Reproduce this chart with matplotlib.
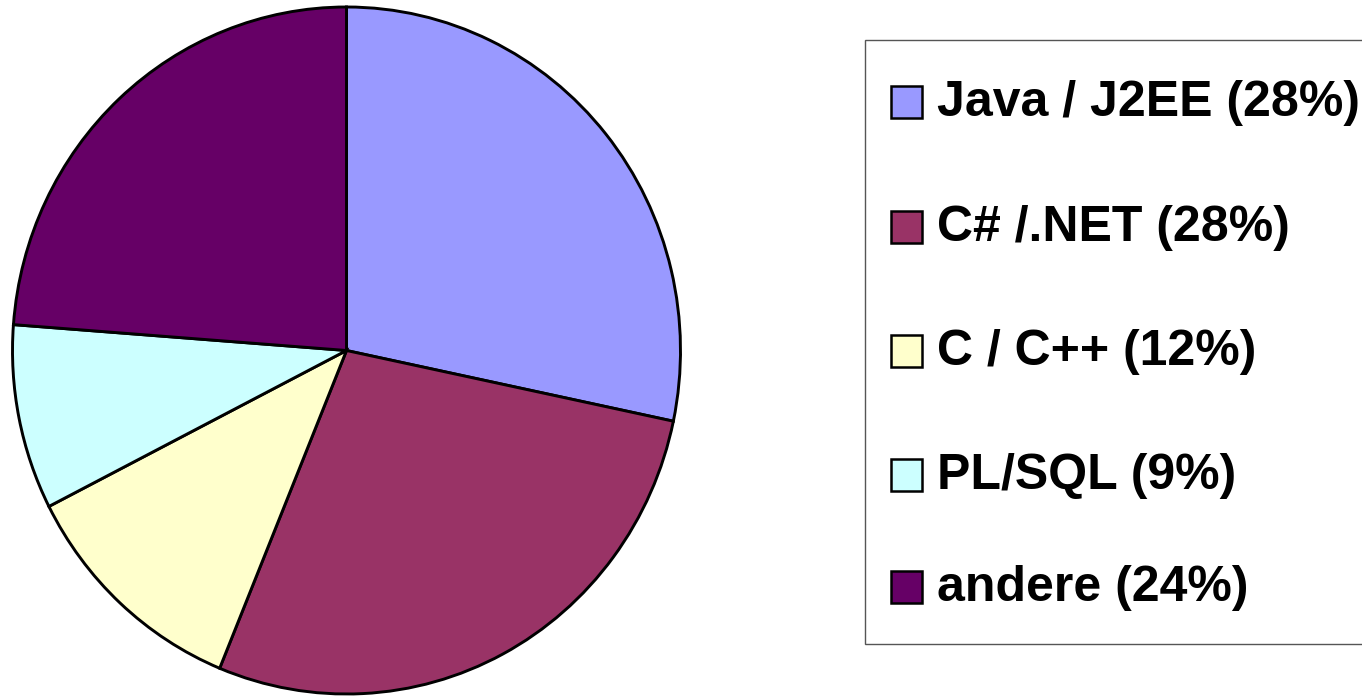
import matplotlib
matplotlib.use("Agg")
import matplotlib.pyplot as plt
from matplotlib.patches import Rectangle

labels = ["Java / J2EE (28%)", "C# /.NET (28%)", "C / C++ (12%)", "PL/SQL (9%)", "andere (24%)"]
values = [28.3, 27.9, 11.3, 8.7, 23.8]
colors = ["#9999FF", "#993366", "#FFFFCC", "#CCFFFF", "#660066"]

W, H = 1362, 696
fig = plt.figure(figsize=(W / 100, H / 100), dpi=100)

# pie axes fitted to the (slightly elliptical) pie bounding box in pixels
left, right, top, bottom = 12.5, 680.5, 7.0, 694.0
ax = fig.add_axes([left / W, (H - bottom) / H, (right - left) / W, (bottom - top) / H])
ax.pie(values, colors=colors, startangle=90, counterclock=False,
       wedgeprops=dict(edgecolor="black", linewidth=2.1))
ax.set_aspect("auto")
ax.set_xlim(-1, 1)
ax.set_ylim(-1, 1)
ax.axis("off")

# legend drawn in pixel coordinates on an overlay axes
lax = fig.add_axes([0, 0, 1, 1])
lax.set_xlim(0, W)
lax.set_ylim(H, 0)
lax.axis("off")
lax.add_patch(Rectangle((865, 40), 600, 604, facecolor="white", edgecolor="#555555", linewidth=1.0))
row_y = [102, 227, 351, 475, 587]
for lab, col, y in zip(labels, colors, row_y):
    lax.add_patch(Rectangle((891, y - 16), 31, 32, facecolor=col, edgecolor="black", linewidth=1.8))
    lax.text(937, y + 1, lab, fontsize=36, fontweight="bold", family="Liberation Sans",
             va="center", ha="left", color="black")

fig.savefig("out.png", dpi=100)
